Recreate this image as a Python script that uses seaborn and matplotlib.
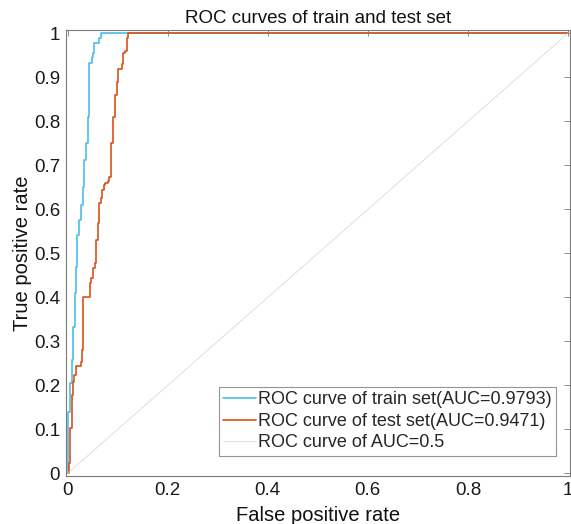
import numpy as np
import pandas as pd
import seaborn as sns
import matplotlib.pyplot as plt

# ROC points (fpr where the curve steps up, tpr after the step)
train_fpr = [0, 0.0014, 0.0054, 0.008, 0.0114, 0.0148, 0.0168, 0.0188, 0.0235, 0.0268,
             0.0301, 0.0335, 0.0368, 0.0401, 0.0425, 0.0435, 0.048, 0.050, 0.052, 0.062,
             0.067, 1.0]
train_tpr = [0, 0.14, 0.205, 0.258, 0.333, 0.409, 0.47, 0.542, 0.576, 0.61,
             0.651, 0.712, 0.75, 0.81, 0.841, 0.932, 0.947, 0.955, 0.977, 0.989,
             1.0, 1.0]

test_fpr = [0, 0.003, 0.0054, 0.0088, 0.0114, 0.0134, 0.0168, 0.0268, 0.0288, 0.0315,
            0.045, 0.047, 0.050, 0.0555, 0.057, 0.060, 0.062, 0.0635, 0.067, 0.069,
            0.072, 0.0755, 0.08, 0.0835, 0.087, 0.0915, 0.095, 0.098, 0.1015, 0.108,
            0.111, 0.1145, 0.118, 0.121, 1.0]
test_tpr = [0, 0.023, 0.102, 0.178, 0.208, 0.223, 0.245, 0.254, 0.28, 0.401,
            0.433, 0.443, 0.466, 0.477, 0.53, 0.568, 0.59, 0.614, 0.625, 0.644,
            0.655, 0.659, 0.665, 0.674, 0.75, 0.81, 0.86, 0.89, 0.92, 0.93,
            0.955, 0.96, 0.989, 1.0, 1.0]

diag = [0, 1]

labels = ['ROC curve of train set(AUC=0.9793)',
          'ROC curve of test set(AUC=0.9471)',
          'ROC curve of AUC=0.5']

sns.set_theme(style="white")
plt.rcParams['font.family'] = ['Liberation Sans', 'DejaVu Sans']

fig = plt.figure(figsize=(5.71, 5.24), dpi=100)
ax = fig.add_axes([0.115, 0.0916, 0.884, 0.851])

sns.lineplot(x=train_fpr, y=train_tpr, ax=ax, color='#4DBEEE', lw=1.2,
             drawstyle='steps-post', sort=False, estimator=None, label=labels[0])
sns.lineplot(x=test_fpr, y=test_tpr, ax=ax, color='#D95319', lw=1.2,
             drawstyle='steps-post', sort=False, estimator=None, label=labels[1])
sns.lineplot(x=diag, y=diag, ax=ax, color='#d9d9d9', lw=0.6,
             sort=False, estimator=None, label=labels[2])

ax.set_xlim(-0.004, 1.005)
ax.set_ylim(-0.006, 1.0075)
ax.set_xticks(np.arange(0, 1.01, 0.2))
ax.set_xticklabels(['0', '0.2', '0.4', '0.6', '0.8', '1'])
ax.set_yticks(np.arange(0, 1.01, 0.1))
ax.set_yticklabels(['0'] + ['%.1f' % v for v in np.arange(0.1, 0.95, 0.1)] + ['1'])

for s in ax.spines.values():
    s.set_visible(True)
    s.set_color('#7a7a7a')
    s.set_linewidth(0.8)
ax.tick_params(direction='in', length=4, width=0.6, color='#7a7a7a',
               top=True, right=True, labelsize=13.5, labelcolor='#1a1a1a', pad=4)

ax.set_title('ROC curves of train and test set', fontsize=13.5, color='#111111', pad=5)
ax.set_xlabel('False positive rate', fontsize=14.5, color='#111111', labelpad=5)
ax.set_ylabel('True positive rate', fontsize=14.5, color='#111111', labelpad=1)

leg = ax.legend(loc='lower right', bbox_to_anchor=(0.971, 0.045), borderaxespad=0,
                fontsize=13, frameon=True, fancybox=False, handlelength=1.8,
                handletextpad=0.1, labelspacing=0.25, borderpad=0.25)
leg.get_frame().set_edgecolor('#7a7a7a')
leg.get_frame().set_linewidth(0.8)

fig.savefig('out.png', dpi=100)
